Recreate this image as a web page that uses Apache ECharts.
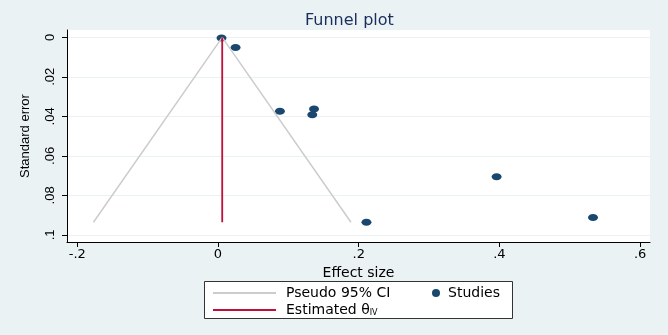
<!DOCTYPE html>
<html><head><meta charset="utf-8">
<script src="https://cdn.jsdelivr.net/npm/echarts@6/dist/echarts.min.js"></script>
<style>html,body{margin:0;padding:0;background:#eaf2f3}#c{width:668px;height:335px}</style>
</head><body><div id="c"></div>
<script>
// Study effect sizes and standard errors
const effectSize = [0.005, 0.025, 0.088, 0.1365, 0.134, 0.396, 0.533, 0.211];
const standardError = [0.0003, 0.0052, 0.0374, 0.0363, 0.0392, 0.0706, 0.0912, 0.0936];
// Pooled estimate and pseudo CI funnel
const thetaIV = 0.006;
const seMax = 0.0936;
const funnelX = [-0.177, 0.006, 0.189];
const funnelY = [0.0936, 0, 0.0936];
const xTicks = [-0.2, 0, 0.2, 0.4, 0.6];
const yTicks = [0, 0.02, 0.04, 0.06, 0.08, 0.1];

function stataFmt(v){
  let s = String(Math.round(v*1000)/1000);
  if (s.startsWith('0.')) s = s.slice(1);
  else if (s.startsWith('-0.')) s = '-' + s.slice(2);
  return s;
}
const font = 'Liberation Sans, Arial, sans-serif';
const wide = 'DejaVu Sans, Verdana, sans-serif';
const chart = echarts.init(document.getElementById('c'), null, {renderer:'canvas'});
chart.setOption({
  backgroundColor: '#eaf2f3',
  animation: false,
  title: {text:'Funnel plot', left: 300, top: 8, textStyle:{color:'#1a2e5c', fontSize:16, fontWeight:'normal', fontFamily:wide}},
  grid: {left: 67, right: 18, top: 30, bottom: 93, show:true, backgroundColor:'#ffffff', borderWidth:0},
  xAxis: {
    type:'value', min:-0.2146, max:0.614,
    name:'Effect size', nameLocation:'middle', nameGap:24,
    nameTextStyle:{color:'#000', fontSize:14, fontFamily:wide},
    axisLine:{show:true, onZero:false, lineStyle:{color:'#000', width:1}},
    axisTick:{show:true, length:5, lineStyle:{color:'#000'}, customValues: xTicks},
    axisLabel:{color:'#000', fontSize:13, fontFamily:wide, margin:6, customValues: xTicks, formatter: stataFmt},
    splitLine:{show:false}
  },
  yAxis: {
    type:'value', inverse:true, min:-0.0037, max:0.1036,
    name:'Standard error', nameLocation:'middle', nameGap:35,
    nameTextStyle:{color:'#000', fontSize:13, fontFamily:font},
    axisLine:{show:true, onZero:false, lineStyle:{color:'#000', width:1}},
    axisTick:{show:true, length:5, lineStyle:{color:'#000'}, customValues: yTicks},
    axisLabel:{color:'#000', fontSize:13, fontFamily:font, margin:10, rotate:90, customValues: yTicks, formatter: stataFmt},
    splitLine:{show:true, lineStyle:{color:'#eaf2f3', width:1}}
  },
  legend: [
    {
      orient:'vertical', left: 207, top: 281, itemWidth: 63, itemHeight: 10, itemGap: 3,
      itemStyle:{opacity:0},
      data:['Pseudo 95% CI','Estimated θIV'],
      textStyle:{color:'#000', fontSize:14, fontFamily:wide, padding:[0,0,0,5],
        rich:{sub:{fontSize:8, fontFamily:wide, color:'#000', verticalAlign:'bottom', padding:[4,0,0,0]}}},
      formatter: function(n){ return n === 'Estimated θIV' ? 'Estimated θ{sub|IV}' : n; }
    },
    {
      orient:'vertical', left: 427, top: 281, itemWidth: 10, itemHeight: 8,
      data:[{name:'Studies', icon:'circle'}],
      itemStyle:{opacity:1},
      textStyle:{color:'#000', fontSize:14, fontFamily:wide, padding:[0,0,0,2]}
    }
  ],
  graphic: [{
    type:'rect', left: 204, top: 281, shape:{width:308, height:37},
    style:{fill:'#ffffff', stroke:'#333', lineWidth:1}, z: -1, silent:true
  }],
  series: [
    {
      name:'Pseudo 95% CI', type:'line', symbol:'none', silent:true,
      itemStyle:{color:'#cccccc'},
      lineStyle:{color:'#cccccc', width:1.5},
      data: funnelX.map((x,i)=>[x, funnelY[i]])
    },
    {
      name:'Estimated θIV', type:'line', symbol:'none', silent:true,
      itemStyle:{color:'#c0103a'},
      lineStyle:{color:'#c0103a', width:1.8},
      data: [[thetaIV, 0], [thetaIV, seMax]]
    },
    {
      name:'Studies', type:'scatter', symbol:'circle', symbolSize:[10,7],
      itemStyle:{color:'#1a476f', opacity:1},
      data: effectSize.map((x,i)=>[x, standardError[i]])
    }
  ]
});
</script></body></html>
